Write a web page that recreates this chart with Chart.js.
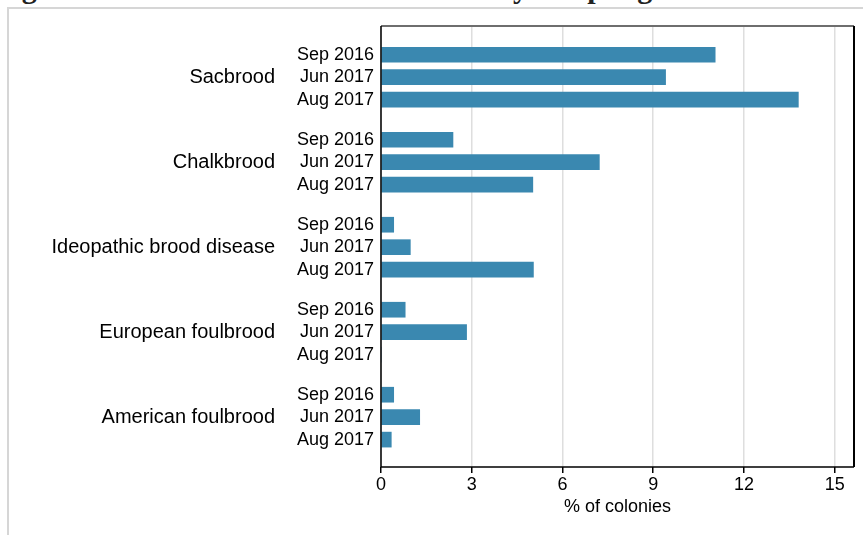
<!DOCTYPE html>
<html>
<head>
<meta charset="utf-8">
<script src="https://cdn.jsdelivr.net/npm/chart.js@4"></script>
<style>
  html, body { margin: 0; padding: 0; background: #fff; }
  #wrap { position: relative; width: 863px; height: 535px; overflow: hidden; }
  #frame { position: absolute; left: 7px; top: 7px; width: 870px; height: 540px;
           border-top: 2px solid #d6d6d6; border-left: 2px solid #d6d6d6; }
  #title { position: absolute; left: -5px; top: -29px; white-space: nowrap; line-height: 30px;
           font: bold 30px "Liberation Serif", serif; color: #222; }
  canvas { position: absolute; left: 0; top: 0; }
</style>
</head>
<body>
<div id="wrap">
  <div id="title">Figure 4: Brood diseases in all colonies by sampling round</div>
  <div id="frame"></div>
  <canvas id="chart" width="863" height="535"></canvas>
</div>
<script>
// data (% of colonies)
const groups = ['Sacbrood', 'Chalkbrood', 'Ideopathic brood disease', 'European foulbrood', 'American foulbrood'];
const periods = ['Sep 2016', 'Jun 2017', 'Aug 2017'];
const sep2016 = [11.05, 2.38, 0.42, 0.80, 0.42];
const jun2017 = [9.41, 7.22, 0.97, 2.83, 1.28];
const aug2017 = [13.80, 5.02, 5.04, 0, 0.34];
const xTicks = [0, 3, 6, 9, 12, 15];

// row layout: one unit per period row, groups spaced a bit wider
const GROUP_STEP = 3.786;
const rowPos = (g, p) => g * GROUP_STEP + p;
const Y_MIN = -1.28;
const Y_MAX = rowPos(4, 2) + 1.22;

const series = [sep2016, jun2017, aug2017];
const barData = [];
const subTicks = [];
const subLabels = {};
groups.forEach((g, gi) => {
    periods.forEach((p, pi) => {
        const y = rowPos(gi, pi);
        barData.push({ x: series[pi][gi], y: y });
        subTicks.push({ value: y });
        subLabels[y.toFixed(3)] = p;
    });
});
const groupTicks = groups.map((g, gi) => ({ value: rowPos(gi, 1) }));

const font = { family: "'Liberation Sans', Arial, sans-serif", size: 18 };
const groupFont = { family: "'Liberation Sans', Arial, sans-serif", size: 20 };

// box around the plot area
const frame = {
    id: 'frame',
    afterDraw(chart) {
        const a = chart.chartArea;
        const c = chart.ctx;
        c.save();
        c.lineWidth = 2;
        c.strokeStyle = '#6e6e6e';
        c.beginPath(); c.moveTo(a.left, a.top); c.lineTo(a.right, a.top); c.stroke();
        c.strokeStyle = '#000';
        c.beginPath(); c.moveTo(a.right, a.top); c.lineTo(a.right, a.bottom); c.stroke();
        c.lineWidth = 1.5;
        c.beginPath(); c.moveTo(a.left, a.top); c.lineTo(a.left, a.bottom); c.lineTo(a.right, a.bottom); c.stroke();
        c.restore();
    }
};

new Chart(document.getElementById('chart'), {
    type: 'bar',
    data: {
        datasets: [{
            data: barData,
            backgroundColor: '#3a88b0',
            borderWidth: 0,
            barThickness: 15
        }]
    },
    options: {
        responsive: false,
        animation: false,
        indexAxis: 'y',
        layout: { padding: { top: 26, right: 9, bottom: 13, left: 0 } },
        plugins: {
            legend: { display: false },
            tooltip: { enabled: false }
        },
        scales: {
            x: {
                type: 'linear',
                min: 0,
                max: 15.64,
                afterBuildTicks: axis => { axis.ticks = xTicks.map(v => ({ value: v })); },
                afterFit: scale => { scale.height = 55; },
                ticks: { color: '#000', font: font, padding: 1, includeBounds: false },
                grid: { color: '#dedede', lineWidth: 1.5, tickColor: '#000', tickLength: 6, drawTicks: true },
                border: { display: false },
                title: { display: true, text: '% of colonies', color: '#000', font: font, padding: { top: 0, bottom: 4 } }
            },
            y: {
                type: 'linear',
                reverse: true,
                offset: false,
                min: Y_MIN,
                max: Y_MAX,
                weight: 0,
                afterBuildTicks: axis => { axis.ticks = subTicks.slice(); },
                afterFit: scale => { scale.width = 85; scale.paddingTop = 0; scale.paddingBottom = 0; },
                ticks: {
                    color: '#000',
                    font: font,
                    padding: 7,
                    autoSkip: false,
                    callback: v => subLabels[Number(v).toFixed(3)] || ''
                },
                grid: { display: false, drawTicks: false },
                border: { display: false }
            },
            yGroup: {
                type: 'linear',
                position: 'left',
                axis: 'y',
                reverse: true,
                offset: false,
                min: Y_MIN,
                max: Y_MAX,
                weight: 1,
                afterBuildTicks: axis => { axis.ticks = groupTicks.slice(); },
                afterFit: scale => { scale.width = 296; scale.paddingTop = 0; scale.paddingBottom = 0; },
                ticks: {
                    color: '#000',
                    font: groupFont,
                    padding: 21,
                    autoSkip: false,
                    callback: (v, i) => groups[i]
                },
                grid: { display: false, drawTicks: false },
                border: { display: false }
            }
        }
    },
    plugins: [frame]
});
</script>
</body>
</html>
